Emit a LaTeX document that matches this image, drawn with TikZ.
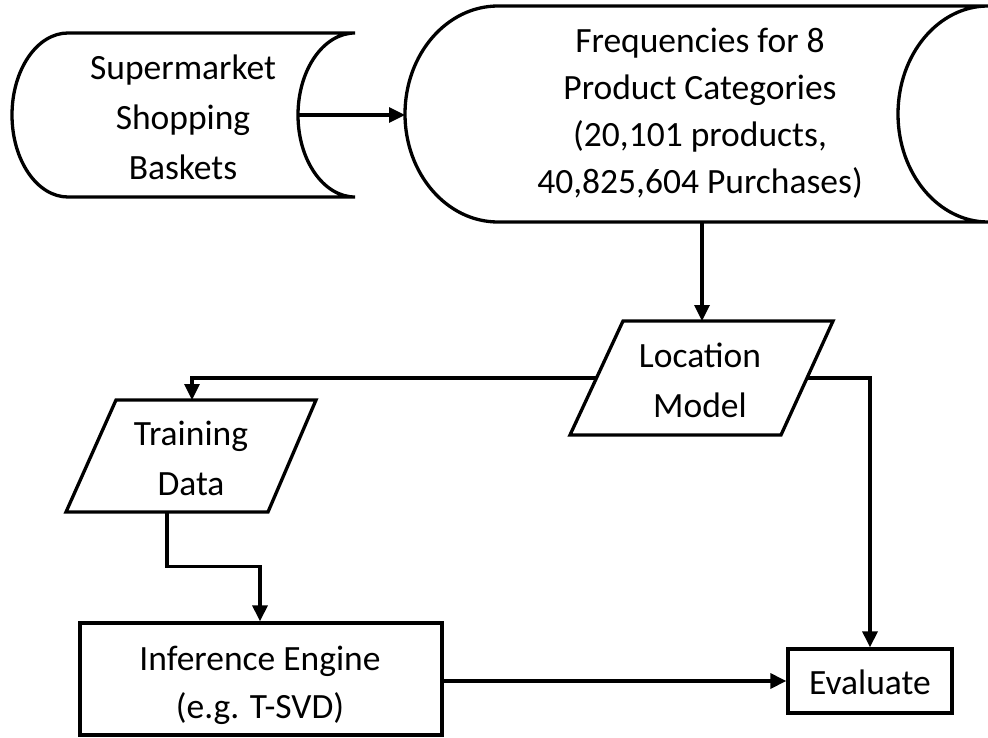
\documentclass[tikz,border=0pt]{standalone}
\usepackage{fontspec}
\setmainfont{Carlito}
\usetikzlibrary{arrows.meta,calc}
\begin{document}
\begin{tikzpicture}[x=1pt,y=1pt,
  line width=3.3pt,
  outline/.style={draw=black, line width=3.3pt, line join=miter},
  boxnode/.style={outline, inner sep=0pt},
  txt/.style={align=center, font=\fontsize{35.5}{50}\selectfont, inner sep=0pt},
  flow/.style={-{Triangle[length=16pt,width=15pt]}, line width=3.3pt},
]
\fill[white] (0,0) rectangle (988,-738);
\useasboundingbox (0,0) rectangle (988,-738);

% stored-data shapes
\draw[outline] (68,-33) -- (355,-33)
  arc[start angle=90, end angle=270, x radius=57pt, y radius=82pt]
  -- (68,-197)
  arc[start angle=270, end angle=90, x radius=56pt, y radius=82pt] -- cycle;
\draw[outline] (498,-6) -- (988,-6)
  arc[start angle=90, end angle=270, x radius=90pt, y radius=108pt]
  -- (498,-222)
  arc[start angle=270, end angle=90, x radius=93pt, y radius=108pt] -- cycle;

% data (parallelogram) shapes
\draw[outline] (623,-321) -- (833,-321) -- (781,-435) -- (570,-435) -- cycle;
\draw[outline] (116,-400) -- (316,-400) -- (268,-512) -- (66,-512) -- cycle;

% process boxes
\node[boxnode, minimum width=362pt, minimum height=112pt] (infbox) at (261,-679) {};
\node[boxnode, minimum width=164pt, minimum height=64pt] (evalbox) at (870,-681) {};

% texts
\node[txt] (baskets) at (183,-117) {Supermarket\\Shopping\\Baskets};
\node[txt, font=\fontsize{35.5}{47}\selectfont] (freq) at (700,-113.5)
  {Frequencies for 8\\Product Categories\\(20,101 products,\\40,825,604 Purchases)};
\node[txt] (locmodel) at (700,-380.5) {Location\\Model};
\node[txt] (training) at (191,-458) {Training\\Data};
\node[txt, font=\fontsize{35.5}{48}\selectfont] (inference) at (260,-685.5) {Inference Engine\\(e.g. T-SVD)};
\node[txt] (evaluate) at (870,-682.5) {Evaluate};

% connector ends on the shape outlines
\coordinate (bsk-e) at (298,-115);
\coordinate (frq-w) at (405,-115);
\coordinate (frq-s) at (702,-222);
\coordinate (loc-n) at (702,-321);
\coordinate (loc-w) at (596.5,-378);
\coordinate (loc-e) at (807,-378);
\coordinate (trn-n) at (192,-400);
\coordinate (trn-s) at (167,-512);
\coordinate (inf-n) at ($(infbox.north)+(-1,0)$);
\coordinate (bend) at ($(trn-s)!0.5!(inf-n)$);

% connectors
\draw[flow] (bsk-e) -- (frq-w);
\draw[flow] (frq-s) -- (loc-n);
\draw[flow] (loc-w) -| (trn-n);
\draw[flow] (loc-e) -| (evalbox.north);
\draw[flow] (trn-s) |- (bend) -| (inf-n);
\draw[flow] (infbox.east |- evalbox.west) -- (evalbox.west);
\end{tikzpicture}
\end{document}
